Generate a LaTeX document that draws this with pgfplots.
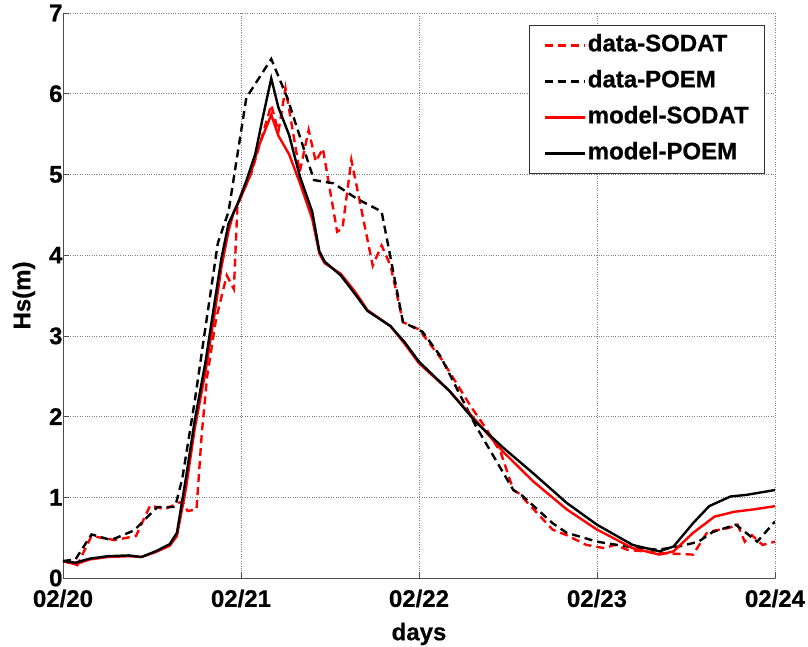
\documentclass[border=0pt]{standalone}
\usepackage{pgfplots}
\pgfplotsset{compat=1.18}
\usepackage{fontspec}
\setmainfont{Liberation Sans}[BoldFeatures={FakeBold=0.6}]
\begin{document}
\begin{tikzpicture}
\begin{axis}[
  width=712bp, height=565bp, scale only axis,
  xmin=0, xmax=4, ymin=0, ymax=7,
  axis x line*=bottom, axis y line*=left,
  axis line style={black!70, line width=0.8bp},
  xtick={0,1,2,3,4},
  xticklabels={02/20,02/21,02/22,02/23,02/24},
  ytick={0,1,...,7},
  tick align=inside, major tick length=6bp,
  tick style={black!70, line width=0.6bp},
  grid=major,
  grid style={dotted, gray, line width=0.7bp},
  /pgf/number format/assume math mode=true,
  tick label style={font=\bfseries\fontsize{24bp}{28bp}\selectfont},
  xticklabel style={yshift=-8bp},
  yticklabel style={xshift=3bp},
  label style={font=\bfseries\fontsize{24bp}{28bp}\selectfont},
  xlabel={days}, ylabel={Hs(m)},
  xlabel style={at={(axis description cs:0.5,0)}, anchor=center, yshift=-56bp},
  ylabel style={at={(axis description cs:-0.0548,0.5)}, anchor=center},
  legend style={at={(0.6545,0.9788)}, anchor=north west,
    font=\bfseries\fontsize{24bp}{28bp}\selectfont,
    draw=black!80, line width=0.8bp, row sep=10bp, inner xsep=14bp, inner ysep=7bp,
    nodes={inner sep=2bp, text height=17bp, text depth=5bp},
    cells={anchor=west}},
  legend image code/.code={\draw[#1] (0bp,0bp) -- (40bp,0bp);},
  every axis plot/.append style={line width=2.4bp},
]
\coordinate (O) at (rel axis cs:0,0);
\addplot[red, dash pattern=on 8bp off 5bp] coordinates {
(0,0.21) (0.08,0.16) (0.16,0.52) (0.29,0.47) (0.41,0.52) (0.49,0.90) (0.57,0.85)
(0.67,0.95) (0.70,0.83) (0.75,0.85) (0.78,1.8) (0.81,2.5) (0.86,3.21) (0.92,3.75)
(0.96,3.58) (0.98,4.62) (1.06,5.03) (1.17,5.86) (1.21,5.53) (1.25,6.07) (1.33,5.03)
(1.38,5.55) (1.42,5.16) (1.46,5.32) (1.54,4.29) (1.57,4.33) (1.62,5.18) (1.74,3.87)
(1.79,4.12) (1.84,3.87) (1.91,3.17) (2.00,3.08) (2.13,2.70) (2.29,2.13) (2.38,1.84)
(2.46,1.55) (2.53,1.09) (2.56,1.05) (2.75,0.60) (2.83,0.53) (2.94,0.41) (3.04,0.37)
(3.10,0.41) (3.17,0.35) (3.35,0.31) (3.54,0.29) (3.62,0.57) (3.74,0.62) (3.79,0.66)
(3.83,0.45) (3.87,0.53) (3.93,0.41) (4.00,0.45)};
\addlegendentry{data-SODAT}
\addplot[black, dash pattern=on 8bp off 5bp] coordinates {
(0,0.21) (0.07,0.23) (0.16,0.54) (0.27,0.47) (0.40,0.59) (0.53,0.88) (0.63,0.88)
(0.67,1.23) (0.74,2.19) (0.80,3.10) (0.87,4.15) (0.93,4.54) (1.03,5.95) (1.17,6.43)
(1.26,5.95) (1.41,4.93) (1.52,4.89) (1.65,4.70) (1.79,4.54) (1.91,3.17) (2.02,3.05)
(2.12,2.75) (2.32,1.88) (2.53,1.09) (2.58,1.02) (2.75,0.68) (2.83,0.56) (3.00,0.45)
(3.17,0.39) (3.34,0.35) (3.46,0.39) (3.57,0.45) (3.65,0.57) (3.78,0.66) (3.90,0.45)
(4.00,0.70)};
\addlegendentry{data-POEM}
\addplot[red] coordinates {
(0,0.21) (0.07,0.17) (0.15,0.23) (0.25,0.26) (0.37,0.27) (0.44,0.26) (0.52,0.32)
(0.60,0.40) (0.64,0.52) (0.69,1.10) (0.74,1.85) (0.80,2.55) (0.85,3.25) (0.89,3.85)
(0.93,4.30) (0.96,4.54) (1.00,4.72) (1.05,4.98) (1.10,5.35) (1.17,5.74) (1.21,5.48)
(1.27,5.25) (1.33,4.90) (1.40,4.45) (1.44,4.02) (1.47,3.90) (1.56,3.77) (1.64,3.55)
(1.71,3.32) (1.84,3.12) (1.92,2.90) (2.00,2.66) (2.17,2.32) (2.32,1.95) (2.47,1.57)
(2.64,1.20) (2.83,0.85) (3.00,0.60) (3.20,0.37) (3.35,0.29) (3.43,0.33) (3.54,0.56)
(3.66,0.76) (3.77,0.82) (3.88,0.85) (4.00,0.89)};
\addlegendentry{model-SODAT}
\addplot[black] coordinates {
(0,0.21) (0.07,0.19) (0.15,0.24) (0.25,0.27) (0.37,0.28) (0.44,0.26) (0.52,0.33)
(0.60,0.42) (0.64,0.56) (0.69,1.23) (0.74,1.95) (0.80,2.67) (0.85,3.39) (0.89,3.96)
(0.93,4.39) (0.98,4.63) (1.03,4.92) (1.08,5.25) (1.12,5.68) (1.17,6.19) (1.21,5.83)
(1.27,5.49) (1.33,4.98) (1.40,4.54) (1.44,4.05) (1.47,3.92) (1.56,3.75) (1.64,3.52)
(1.71,3.31) (1.84,3.12) (1.92,2.92) (2.00,2.68) (2.17,2.32) (2.32,1.93) (2.47,1.62)
(2.64,1.30) (2.83,0.93) (3.00,0.66) (3.20,0.41) (3.35,0.33) (3.43,0.39) (3.54,0.68)
(3.63,0.89) (3.75,1.01) (3.84,1.03) (4.00,1.09)};
\addlegendentry{model-POEM}
\end{axis}
\pgfresetboundingbox
\path ([shift={(-63bp,-69bp)}]O) rectangle ++(808bp,647bp);
\end{tikzpicture}
\end{document}
